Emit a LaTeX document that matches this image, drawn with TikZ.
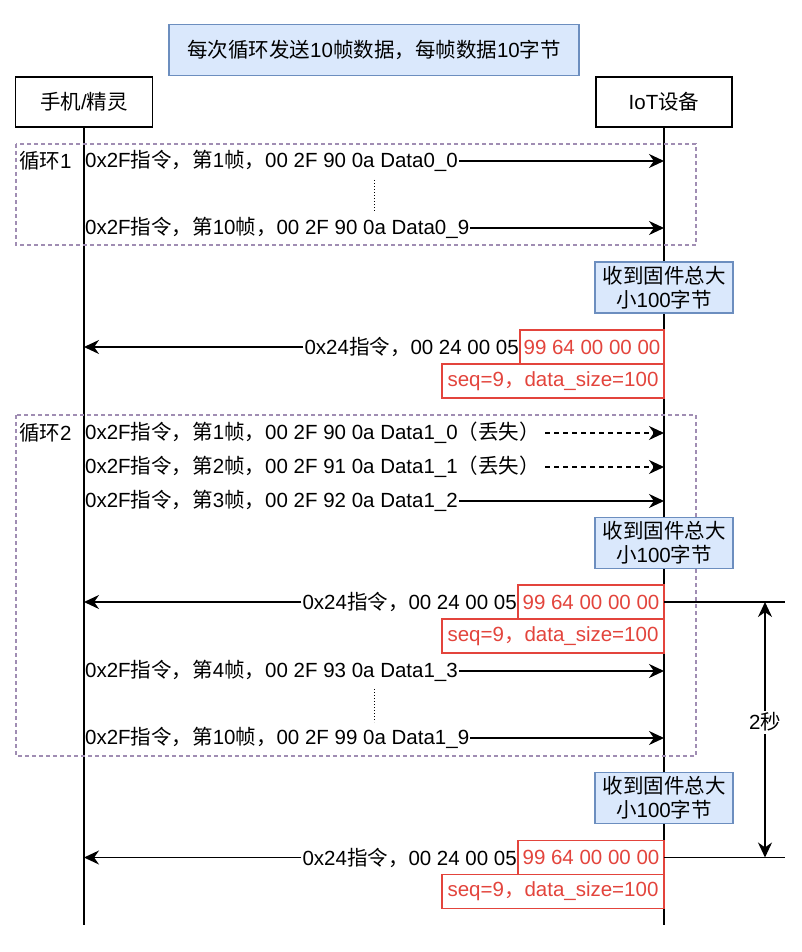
\documentclass[tikz,border=0pt]{standalone}
\usepackage{fontspec}
\setmainfont{Liberation Sans}
\newfontfamily\cjkfont{Noto Sans CJK SC}
% CJK runs in Noto Sans CJK, the rest in Liberation Sans
\XeTeXinterchartokenstate=1
\newXeTeXintercharclass\cjkclass
\count255="3000
\loop\XeTeXcharclass\count255=\cjkclass
  \advance\count255 by 1
  \ifnum\count255<"A000 \repeat
\count255="FF00
\loop\XeTeXcharclass\count255=\cjkclass
  \advance\count255 by 1
  \ifnum\count255<"FFF0 \repeat
\XeTeXinterchartoks 0 \cjkclass={\begingroup\cjkfont}
\XeTeXinterchartoks 4095 \cjkclass={\begingroup\cjkfont}
\XeTeXinterchartoks \cjkclass 0={\endgroup}
\XeTeXinterchartoks \cjkclass 4095={\endgroup}
\usetikzlibrary{arrows.meta,positioning}
\definecolor{notefill}{HTML}{DAE8FC}
\definecolor{noteline}{HTML}{6C8EBF}
\definecolor{ackred}{HTML}{E3443C}
\definecolor{loopgray}{HTML}{A08DB3}
\begin{document}
\begin{tikzpicture}[x=1pt,y=-1pt,font=\fontsize{20.5}{24}\selectfont,
  actor/.style={draw,line width=1.5pt,minimum width=137pt,minimum height=50pt,outer sep=0pt},
  note/.style={draw=noteline,fill=notefill,line width=1.2pt,align=center,inner sep=2pt,
    minimum width=138pt,minimum height=51pt,outer sep=0pt},
  msg/.style={inner xsep=1pt,inner ysep=2pt},
  redbox/.style={draw=ackred,text=ackred,fill=white,line width=1.2pt,minimum height=34pt,
    inner sep=1pt,outer sep=0pt},
  life/.style={line width=1.5pt},
  arr/.style={life,-{Stealth[length=15pt,width=14pt]}},
  lost/.style={arr,dash pattern=on 5pt off 4pt,shorten <=4pt},
  both/.style={life,{Stealth[length=15pt,width=14pt]}-{Stealth[length=15pt,width=14pt]}},
  loopframe/.style={draw=loopgray,line width=1.5pt,dash pattern=on 4pt off 3pt}]
\useasboundingbox (0,0) rectangle (802,952);

% title and lifelines
\node[note,minimum width=410pt] (T) at (374,50) {每次循环发送10帧数据，每帧数据10字节};
\node[actor] (P) at (84,102) {手机/精灵};
\node[actor,minimum width=136pt] (D) at (664,102) {IoT设备};
\coordinate (Pend) at (84,925);
\coordinate (Dend) at (664,925);
\draw[life] (P) -- (Pend);
\draw[life] (D) -- (Dend);

% loop 1
\draw[loopframe] (16,144) rectangle (696,245);
\node[msg,anchor=west] (L1) at (18,161) {循环1};
\node[msg,anchor=west] (M1) at (84,161) {0x2F指令，第1帧，00 2F 90 0a Data0\_0};
\coordinate (M1e) at (664,161);
\draw[arr] (M1) -- (M1e);
\draw[dotted,line width=1pt] (374,180) -- (374,212);
\node[msg,anchor=west] (M2) at (84,228) {0x2F指令，第10帧，00 2F 90 0a Data0\_9};
\coordinate (M2e) at (664,228);
\draw[arr] (M2) -- (M2e);

\node[note] (N1) at (664,287.5) {收到固件总大\\小100字节};
\node[redbox,minimum width=144pt,anchor=east] (R1) at (664,347) {99 64 00 00 00};
\node[redbox,minimum width=222pt,below=0pt of R1.south east,anchor=north east] (S1) {seq=9，data\_size=100};
\node[msg,left=0pt of R1] (A1) {0x24指令，00 24 00 05};
\coordinate (A1e) at (84,347);
\draw[arr] (A1) -- (A1e);

% loop 2
\draw[loopframe] (16,415) rectangle (696,756);
\node[msg,anchor=west] (L2) at (18,433) {循环2};
\node[msg,anchor=west] (M3) at (84,433) {0x2F指令，第1帧，00 2F 90 0a Data1\_0（丢失）};
\coordinate (M3e) at (664,433);
\draw[lost] (M3) -- (M3e);
\node[msg,anchor=west] (M4) at (84,467) {0x2F指令，第2帧，00 2F 91 0a Data1\_1（丢失）};
\coordinate (M4e) at (664,467);
\draw[lost] (M4) -- (M4e);
\node[msg,anchor=west] (M5) at (84,501) {0x2F指令，第3帧，00 2F 92 0a Data1\_2};
\coordinate (M5e) at (664,501);
\draw[arr] (M5) -- (M5e);

\node[note] (N2) at (664,543) {收到固件总大\\小100字节};
\node[redbox,minimum width=146pt,anchor=east] (R2) at (664,602) {99 64 00 00 00};
\node[redbox,minimum width=222pt,below=0pt of R2.south east,anchor=north east] (S2) {seq=9，data\_size=100};
\node[msg,left=0pt of R2] (A2) {0x24指令，00 24 00 05};
\coordinate (A2e) at (84,602);
\draw[arr] (A2) -- (A2e);

\node[msg,anchor=west] (M6) at (84,671) {0x2F指令，第4帧，00 2F 93 0a Data1\_3};
\coordinate (M6e) at (664,671);
\draw[arr] (M6) -- (M6e);
\draw[dotted,line width=1pt] (374,689) -- (374,722);
\node[msg,anchor=west] (M7) at (84,738) {0x2F指令，第10帧，00 2F 99 0a Data1\_9};
\coordinate (M7e) at (664,738);
\draw[arr] (M7) -- (M7e);

\node[note] (N3) at (664,798) {收到固件总大\\小100字节};
\node[redbox,minimum width=146pt,anchor=east] (R3) at (664,857.5) {99 64 00 00 00};
\node[redbox,minimum width=222pt,below=0pt of R3.south east,anchor=north east] (S3) {seq=9，data\_size=100};
\node[msg,left=0pt of R3] (A3) {0x24指令，00 24 00 05};
\coordinate (A3e) at (84,857.5);
\draw[arr] (A3) -- (A3e);

% 2 s timeout
\coordinate (E2) at (785,602);
\coordinate (E3) at (785,857.5);
\draw[life] (R2) -- (E2);
\draw[life] (R3) -- (E3);
\coordinate (W2) at (765,602);
\coordinate (W3) at (765,857.5);
\draw[both] (W2) -- node[msg,fill=white,pos=0.47] (Ts) {2秒} (W3);
\end{tikzpicture}
\end{document}
